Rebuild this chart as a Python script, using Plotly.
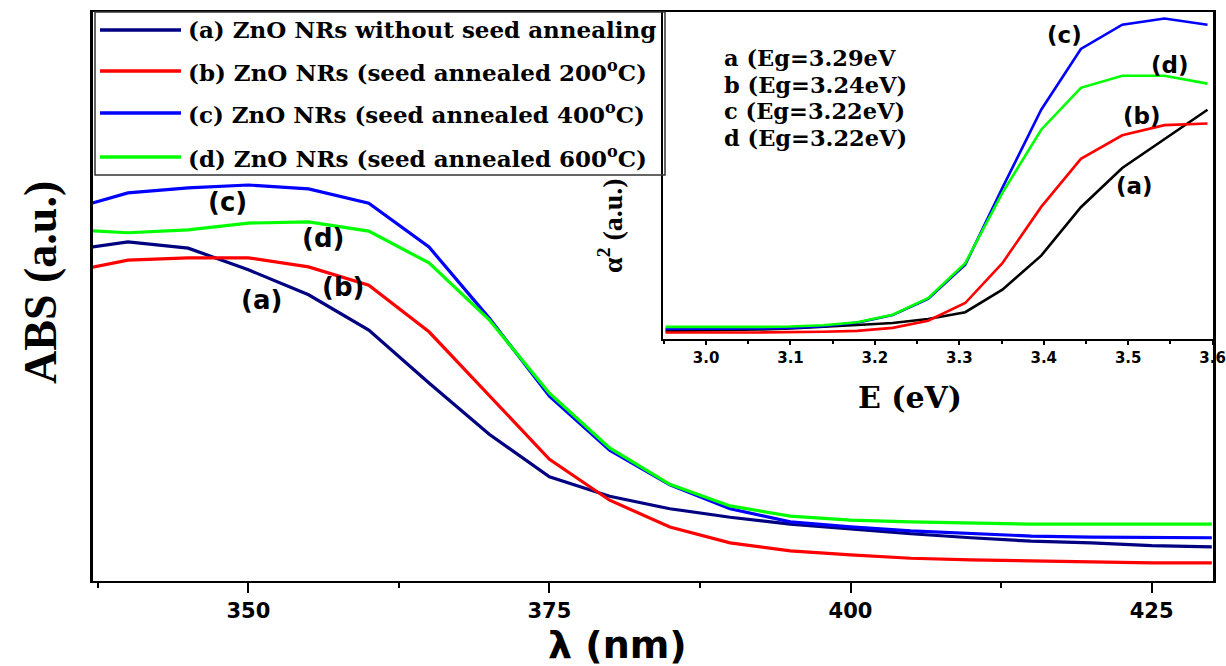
import plotly.graph_objects as go

# ---- main panel: UV-Vis absorbance spectra ----
wavelength_nm = [335, 340, 345, 350, 355, 360, 365, 370, 375, 380,
                 385, 390, 395, 400, 405, 410, 415, 420, 425, 430]

abs_a = [0.581, 0.596, 0.585, 0.547, 0.503, 0.441, 0.348, 0.258, 0.183, 0.149,
         0.127, 0.112, 0.100, 0.091, 0.083, 0.076, 0.070, 0.067, 0.062, 0.060]
abs_b = [0.543, 0.564, 0.568, 0.568, 0.552, 0.520, 0.438, 0.327, 0.214, 0.142,
         0.095, 0.067, 0.053, 0.046, 0.040, 0.037, 0.035, 0.033, 0.032, 0.032]
abs_c = [0.652, 0.682, 0.691, 0.696, 0.689, 0.664, 0.587, 0.462, 0.325, 0.230,
         0.169, 0.127, 0.104, 0.095, 0.088, 0.083, 0.079, 0.077, 0.076, 0.076]
abs_d = [0.618, 0.612, 0.617, 0.629, 0.631, 0.615, 0.559, 0.459, 0.330, 0.234,
         0.170, 0.132, 0.114, 0.107, 0.104, 0.102, 0.100, 0.100, 0.100, 0.100]

legend_labels = [
    "(a) ZnO NRs without seed annealing",
    "(b) ZnO NRs (seed annealed 200<sup>o</sup>C)",
    "(c) ZnO NRs (seed annealed 400<sup>o</sup>C)",
    "(d) ZnO NRs (seed annealed 600<sup>o</sup>C)",
]
main_colors = ["#000080", "#ff0000", "#0000ff", "#00ff00"]

main_tick_vals = [350, 375, 400, 425]
main_minor_vals = [337.5, 362.5, 387.5, 412.5]

# curve tags on the main panel: (text, wavelength, absorbance)
main_tags = [("(c)", 348.3, 0.666), ("(d)", 356.2, 0.603),
             ("(a)", 351.1, 0.494), ("(b)", 357.9, 0.516)]

# ---- inset: Tauc plot (alpha^2 vs photon energy) ----
energy_ev = [3.594, 3.543, 3.493, 3.444, 3.397, 3.351, 3.307, 3.263,
             3.221, 3.179, 3.139, 3.100, 3.062, 3.024, 2.988, 2.952]
alpha2_a = [0.701, 0.610, 0.523, 0.403, 0.255, 0.151, 0.082, 0.061,
            0.049, 0.043, 0.037, 0.032, 0.029, 0.027, 0.025, 0.025]
alpha2_b = [0.659, 0.654, 0.623, 0.551, 0.404, 0.232, 0.110, 0.056,
            0.034, 0.025, 0.022, 0.020, 0.020, 0.020, 0.020, 0.020]
alpha2_c = [0.961, 0.980, 0.961, 0.887, 0.701, 0.462, 0.227, 0.123,
            0.073, 0.050, 0.039, 0.034, 0.032, 0.031, 0.031, 0.031]
alpha2_d = [0.781, 0.805, 0.805, 0.768, 0.640, 0.447, 0.232, 0.125,
            0.074, 0.051, 0.042, 0.038, 0.037, 0.037, 0.037, 0.037]
inset_colors = ["#000000", "#ff0000", "#0000ff", "#00ff00"]

inset_tick_vals = [3.0, 3.1, 3.2, 3.3, 3.4, 3.5, 3.6]
inset_tick_text = ["3.0", "3.1", "3.2", "3.3", "3.4", "3.5", "3.6"]
inset_minor_vals = [2.95, 3.05, 3.15, 3.25, 3.35, 3.45, 3.55]

bandgap_lines = ["a (Eg=3.29eV", "b (Eg=3.24eV)", "c (Eg=3.22eV)", "d (Eg=3.22eV)"]

# curve tags on the inset: (text, energy, alpha^2)
inset_tags = [("(c)", 3.425, 0.931), ("(d)", 3.549, 0.839),
              ("(b)", 3.516, 0.681), ("(a)", 3.507, 0.467)]

# ---- figure geometry (pixels) ----
W, H = 1226, 666
L, R, T, B = 93, 13, 12, 85
PW, PH = W - L - R, H - T - B

SANS = "DejaVu Sans"
SERIF = "DejaVu Serif"


def px(x):
    return (x - L) / PW


def py(y):
    return (H - B - y) / PH


def label(x, y, text, family, size, **kw):
    d = dict(x=px(x), y=py(y), xref="paper", yref="paper", text=text,
             showarrow=False, xanchor="center", yanchor="middle",
             font=dict(family=family, size=size, color="black", weight="bold"))
    d.update(kw)
    return d


fig = go.Figure()

main_series = [abs_a, abs_b, abs_c, abs_d]
for vals, col in zip(main_series, main_colors):
    fig.add_trace(go.Scatter(x=wavelength_nm, y=vals, mode="lines",
                             line=dict(color=col, width=3.2),
                             xaxis="x", yaxis="y", showlegend=False))

inset_series = [alpha2_a, alpha2_b, alpha2_c, alpha2_d]
for vals, col in zip(inset_series, inset_colors):
    fig.add_trace(go.Scatter(x=energy_ev, y=vals, mode="lines",
                             line=dict(color=col, width=2.6),
                             xaxis="x2", yaxis="y2", showlegend=False))

inset_left, inset_bottom = 663, 339

annotations = []
for text, xv, yv in main_tags:
    annotations.append(dict(x=xv, y=yv, xref="x", yref="y", text=text,
                            showarrow=False, xanchor="center", yanchor="middle",
                            font=dict(family=SANS, size=26,
                                      color="black", weight="bold")))
for text, xv, yv in inset_tags:
    annotations.append(dict(x=xv, y=yv, xref="x2", yref="y2", text=text,
                            showarrow=False, xanchor="center", yanchor="middle",
                            font=dict(family=SANS, size=23,
                                      color="black", weight="bold")))

for i, line in enumerate(bandgap_lines):
    annotations.append(label(722, 58 + i * 26.5, line, SERIF, 22.5, xanchor="left"))

# legend block drawn as keys and captions inside a framed box
legend_rows_y = [30, 71, 113, 157]
shapes = []
for ly, lab, col in zip(legend_rows_y, legend_labels, main_colors):
    shapes.append(dict(type="line", xref="paper", yref="paper",
                       x0=px(100), x1=px(181), y0=py(ly), y1=py(ly),
                       line=dict(color=col, width=3.5)))
    annotations.append(label(186, ly, lab, SERIF, 23, xanchor="left"))
shapes.append(dict(type="rect", xref="paper", yref="paper",
                   x0=px(95), x1=px(665), y0=py(175), y1=py(12),
                   line=dict(color="#333333", width=1.5), fillcolor="rgba(0,0,0,0)",
                   layer="above"))

# axis titles
annotations.append(label(40, 283, "ABS (a.u.)", "Liberation Serif", 46, textangle=-90))
annotations.append(label(617, 645, "λ (nm)", SANS, 38))
annotations.append(label(910, 397, "E (eV)", SERIF, 30))
annotations.append(label(611, 226, "α<sup>2</sup> (a.u.)", "Liberation Serif", 28,
                         textangle=-90))

fig.update_layout(
    width=W, height=H,
    margin=dict(l=L, r=R, t=T, b=B, autoexpand=False),
    paper_bgcolor="white", plot_bgcolor="white",
    showlegend=False,
    xaxis=dict(range=[337.1, 430.1], domain=[0, 1], automargin=False,
               tickmode="array", tickvals=main_tick_vals,
               ticks="outside", ticklen=10, tickwidth=2, tickcolor="black",
               minor=dict(tickmode="array", tickvals=main_minor_vals,
                          ticks="outside", ticklen=5, tickwidth=2, tickcolor="black"),
               showgrid=False, zeroline=False,
               showline=True, linecolor="black", linewidth=2, mirror=True,
               tickfont=dict(family=SANS, size=21, color="black", weight="bold")),
    yaxis=dict(range=[0, 1], domain=[0, 1], automargin=False,
               showticklabels=False, ticks="", showgrid=False, zeroline=False,
               showline=True, linecolor="black", linewidth=2.5, mirror=True),
    xaxis2=dict(range=[2.949, 3.6005], domain=[px(inset_left), 1], automargin=False,
                anchor="y2",
                tickmode="array", tickvals=inset_tick_vals, ticktext=inset_tick_text,
                ticks="outside", ticklen=4, tickwidth=1.5, tickcolor="black",
                minor=dict(tickmode="array", tickvals=inset_minor_vals,
                           ticks="outside", ticklen=3, tickwidth=1.5, tickcolor="black"),
                showgrid=False, zeroline=False,
                showline=True, linecolor="black", linewidth=1.5,
                tickfont=dict(family=SANS, size=15, color="black", weight="bold")),
    yaxis2=dict(range=[0, 1], domain=[py(inset_bottom), 1], anchor="x2",
                automargin=False,
                showticklabels=False, ticks="", showgrid=False, zeroline=False,
                showline=True, linecolor="black", linewidth=1.5),
    annotations=annotations,
    shapes=shapes,
)

fig.write_html("out.html")
